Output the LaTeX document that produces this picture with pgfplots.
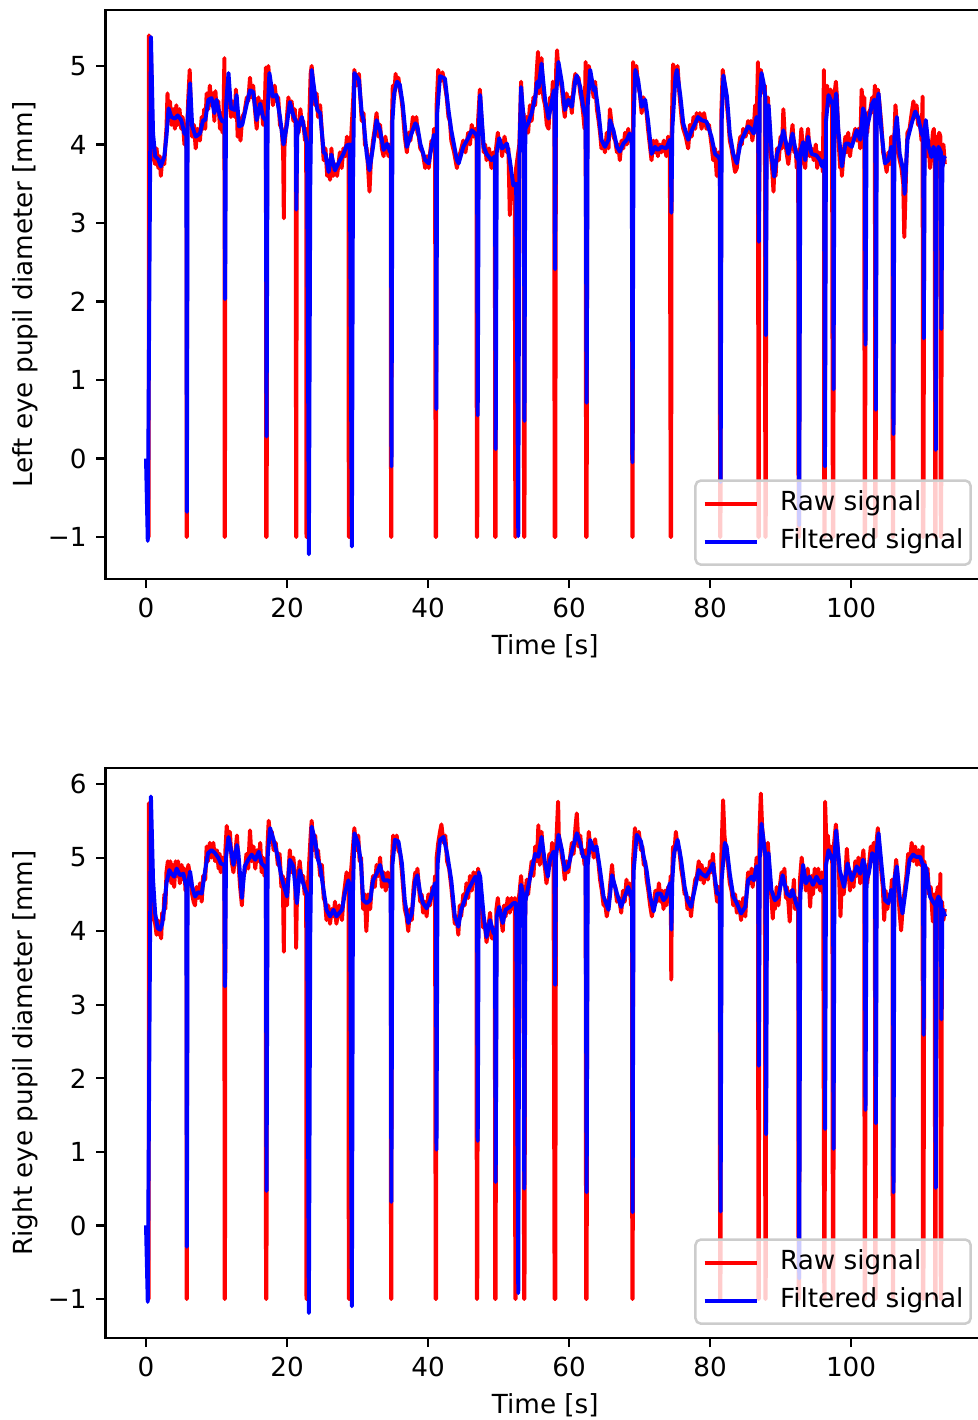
\documentclass[border=0pt]{standalone}
\usepackage{fontspec}
\setmainfont{DejaVu Sans}
\usepackage{pgfplots}
\usepackage{pgfplotstable}
\pgfplotsset{compat=1.18}

\pgfplotstableread{
t v
0 -1
0.38 -1
0.42 5.39
0.55 5.3
0.7 5.2
0.85 4.4
1.0 4.0
1.15 3.8
1.3 3.75
1.5 3.95
1.75 3.7
1.95 3.85
2.1 3.6
2.3 3.8
2.6 3.75
2.75 4.0
2.9 4.2
3.05 4.65
3.2 4.35
3.4 4.55
3.6 4.25
3.85 4.45
4.1 4.2
4.3 4.5
4.5 4.25
4.75 4.45
5.0 4.2
5.2 4.35
5.45 4.0
5.6 4.25
5.74 3.95
5.76 -1
5.8 -1
5.84 4.2
6.0 4.6
6.2 4.95
6.4 4.3
6.55 4.1
6.8 4.25
7.05 3.95
7.3 4.2
7.65 4.05
7.9 4.35
8.1 4.2
8.25 4.45
8.4 4.2
8.6 4.65
8.85 4.45
9.05 4.75
9.3 4.5
9.5 4.65
9.7 4.3
9.85 4.68
10.0 4.45
10.25 4.55
10.5 4.2
10.7 4.4
10.85 4.15
11.0 4.45
11.12 5.10
11.16 -1
11.2 -1
11.24 4.4
11.45 4.75
11.7 4.85
11.85 4.55
12.05 4.35
12.3 4.55
12.6 4.35
12.75 4.7
12.85 4.55
13.0 4.1
13.2 4.3
13.4 4.05
13.65 4.35
13.95 4.4
14.3 4.6
14.5 4.55
14.75 4.85
14.95 4.6
15.2 4.75
15.45 4.45
15.7 4.2
15.95 4.6
16.2 4.4
16.4 4.55
16.6 4.25
16.85 4.5
17.0 4.98
17.05 -1
17.12 -1
17.18 4.6
17.35 5.0
17.5 4.8
17.75 4.75
18.0 4.5
18.25 4.75
18.5 4.55
18.75 4.6
19.0 4.25
19.25 4.2
19.45 3.9
19.55 3.06
19.62 3.95
19.8 4.15
19.95 4.3
20.2 4.6
20.4 4.45
20.65 4.55
20.9 4.3
21.1 4.45
21.25 4.2
21.28 -1
21.33 -1
21.37 4.2
21.5 4.3
21.65 4.15
21.9 4.45
22.1 4.25
22.3 4.3
22.55 4.05
22.72 4.2
22.76 -1
22.84 -1
22.9 3.9
23.05 4.0
23.35 4.9
23.5 5.0
23.75 4.7
24.0 4.5
24.2 4.65
24.4 4.35
24.7 4.5
24.95 4.15
25.2 3.8
25.45 3.95
25.7 3.6
25.9 3.75
26.1 3.55
26.3 3.95
26.55 3.6
26.8 3.75
27.1 3.6
27.5 3.9
27.75 3.7
28.0 3.95
28.25 3.85
28.5 4.1
28.72 3.9
28.76 -1
28.84 -1
28.9 3.95
29.1 4.1
29.4 4.6
29.55 4.95
29.85 4.75
30.2 4.9
30.4 4.6
30.6 4.3
30.85 4.4
31.05 4.0
31.3 3.95
31.5 3.7
31.7 3.4
31.9 3.8
32.2 4.05
32.45 4.2
32.7 4.4
32.95 4.1
33.2 4.25
33.45 3.95
33.7 3.85
33.95 4.1
34.2 3.95
34.4 3.85
34.6 4.0
34.72 3.9
34.75 -1
34.8 -1
34.86 4.2
35.0 4.75
35.2 4.6
35.4 4.9
35.6 4.75
35.8 4.85
36.0 4.7
36.2 4.6
36.4 4.45
36.7 4.1
37.0 3.9
37.25 4.15
37.5 4.05
37.85 4.35
38.2 4.2
38.35 4.35
38.5 4.15
38.7 4.1
38.9 3.95
39.25 3.9
39.6 3.7
39.85 3.85
40.1 3.7
40.3 3.9
40.5 4.05
40.7 3.95
40.85 4.2
41.0 4.05
41.08 -1
41.14 -1
41.22 4.5
41.45 4.95
41.7 4.8
42.05 4.92
42.4 4.75
42.65 4.6
42.9 4.35
43.1 4.3
43.3 4.05
43.7 3.9
44.1 3.7
44.35 3.85
44.6 3.9
45.0 4.05
45.3 3.9
45.7 4.15
45.95 4.0
46.2 4.25
46.45 4.1
46.7 4.2
46.88 4.05
46.92 -1
46.98 -1
47.1 4.3
47.35 4.7
47.6 4.3
47.9 3.9
48.1 4.0
48.3 3.8
48.65 3.95
49.0 3.7
49.25 3.9
49.48 3.75
49.52 -1
49.58 -1
49.65 3.95
49.9 4.15
50.1 4.0
50.3 4.05
50.5 3.85
50.85 4.1
51.2 3.9
51.4 3.95
51.6 3.1
51.85 3.6
52.1 3.3
52.3 3.6
52.38 -1
52.44 -1
52.5 3.7
52.95 4.0
53.2 4.8
53.4 4.35
53.55 4.4
53.62 -1
53.68 -1
53.75 4.1
54.0 4.35
54.2 4.15
54.45 4.5
54.7 4.3
54.95 4.6
55.2 4.5
55.4 4.9
55.6 5.18
55.75 4.65
55.95 4.9
56.1 5.1
56.35 4.6
56.6 4.5
56.85 4.25
57.1 4.2
57.3 4.6
57.5 4.45
57.7 4.8
57.9 4.6
57.95 -1
58.05 -1
58.15 4.9
58.3 5.2
58.5 4.95
58.75 4.85
59.0 4.7
59.2 4.5
59.4 4.35
59.65 4.65
59.9 4.5
60.15 4.6
60.4 4.4
60.65 4.75
60.9 4.9
61.1 4.8
61.35 4.85
61.6 4.65
61.8 4.55
62.0 4.4
62.2 4.2
62.35 5.05
62.42 -1
62.5 -1
62.6 4.6
62.8 5.0
63.0 4.9
63.25 4.75
63.5 4.6
63.7 4.8
63.95 4.45
64.2 4.3
64.4 4.15
64.6 3.95
64.85 4.0
65.1 3.9
65.35 4.15
65.6 3.95
65.8 4.45
66.05 4.25
66.3 4.1
66.55 4.05
66.8 3.9
67.0 4.0
67.2 3.8
67.45 4.05
67.7 3.95
67.95 4.15
68.2 4.0
68.4 4.2
68.6 4.05
68.8 4.1
68.93 3.95
68.97 -1
69.03 -1
69.08 5.05
69.3 4.9
69.55 5.0
69.8 4.75
70.05 4.65
70.3 4.4
70.55 4.6
70.8 4.5
71.0 4.4
71.2 4.2
71.45 4.0
71.7 3.8
71.95 4.05
72.2 3.9
72.4 4.05
72.6 3.85
72.85 4.0
73.1 3.9
73.45 4.05
73.8 3.85
74.05 4.1
74.3 4.0
74.42 -1
74.48 -1
74.55 4.1
74.75 5.02
75.0 4.95
75.2 4.85
75.4 5.0
75.6 4.7
75.8 4.5
76.0 4.3
76.2 4.2
76.55 4.1
76.9 3.95
77.15 4.25
77.4 4.1
77.65 4.35
77.9 4.2
78.1 4.4
78.3 4.3
78.55 4.4
78.8 4.2
79.15 4.4
79.5 4.2
79.85 4.25
80.2 4.0
80.45 3.8
80.7 3.95
80.95 3.6
81.2 3.9
81.38 3.55
81.42 -1
81.48 -1
81.6 4.4
81.8 4.95
82.0 4.8
82.2 4.7
82.4 4.5
82.6 4.3
82.8 4.05
83.05 3.95
83.3 3.8
83.55 3.65
83.8 3.7
84.05 3.95
84.3 4.1
84.5 4.0
84.7 4.2
85.05 4.1
85.4 4.3
85.6 4.15
85.8 4.3
86.0 4.05
86.2 4.2
86.4 4.5
86.6 4.25
86.8 5.05
86.86 -1
86.92 -1
87.0 4.6
87.2 4.95
87.4 4.8
87.6 4.65
87.78 4.75
87.84 -1
87.9 -1
88.0 4.5
88.2 4.6
88.4 4.3
88.6 3.9
88.8 3.7
89.0 3.4
89.15 3.75
89.3 3.6
89.5 3.95
89.75 3.8
90.0 4.1
90.2 3.95
90.4 4.45
90.6 4.1
90.85 3.9
91.1 3.75
91.4 4.0
91.7 4.25
91.95 3.9
92.15 3.95
92.3 3.7
92.5 3.9
92.55 -1
92.62 -1
92.75 3.9
92.95 4.2
93.2 3.9
93.35 3.75
93.5 3.7
93.7 4.05
93.9 4.2
94.15 3.85
94.4 3.95
94.7 3.8
95.0 4.0
95.2 3.7
95.4 3.9
95.6 3.75
95.8 3.9
96.0 3.65
96.15 4.95
96.2 -1
96.26 -1
96.4 4.4
96.6 4.75
96.85 4.5
97.1 4.7
97.3 4.45
97.42 -1
97.48 -1
97.6 4.6
97.85 4.8
98.0 4.6
98.2 4.1
98.45 3.7
98.6 3.85
98.7 3.6
98.95 3.9
99.2 4.1
99.4 3.9
99.6 4.15
99.85 3.85
100.1 4.05
100.35 4.1
100.6 4.2
100.8 4.05
101.05 4.2
101.3 3.95
101.5 4.7
101.7 4.5
101.88 4.6
101.92 -1
101.98 -1
102.1 4.4
102.3 4.15
102.5 4.4
102.75 4.45
103.0 4.6
103.2 4.4
103.38 4.75
103.42 -1
103.48 -1
103.6 4.6
103.8 4.7
104.0 4.55
104.3 4.25
104.55 3.9
104.8 3.8
105.05 3.65
105.3 3.9
105.5 3.75
105.7 4.1
105.88 3.85
105.92 -1
105.98 -1
106.1 4.0
106.3 4.5
106.5 4.25
106.7 3.9
106.9 3.8
107.15 3.7
107.4 3.5
107.55 2.82
107.7 3.3
107.85 3.8
108.0 4.15
108.3 4.2
108.6 4.4
108.85 4.55
109.1 4.35
109.3 4.5
109.5 4.25
109.75 4.3
110.0 4.05
110.15 4.61
110.2 -1
110.27 -1
110.4 4.3
110.6 4.2
110.8 3.85
111.0 4.05
111.2 3.7
111.4 3.9
111.6 4.15
111.75 4.2
111.88 3.8
111.92 -1
111.98 -1
112.1 4.1
112.3 3.85
112.5 4.15
112.68 4.1
112.72 -1
112.78 -1
112.9 3.7
113.1 4.0
113.3 3.75
}\rawL

\pgfplotstableread{
t v
0 0
0.25 -1.05
0.7 5.37
1.0 4.14
1.3 3.85
1.75 3.81
2.1 3.72
2.6 3.85
2.9 4.1
3.2 4.46
3.6 4.35
4.1 4.33
4.5 4.37
5.0 4.31
5.45 4.14
5.72 4.12
5.8 -0.68
5.9 4.3
6.25 4.78
6.55 4.23
7.05 4.10
7.65 4.14
8.1 4.31
8.4 4.31
8.85 4.57
9.3 4.59
9.7 4.40
10.0 4.57
10.5 4.35
10.85 4.29
11.15 4.3
11.22 2.03
11.35 4.5
11.7 4.91
12.05 4.46
12.6 4.44
12.85 4.63
13.2 4.23
13.65 4.25
14.3 4.52
14.75 4.69
15.2 4.67
15.7 4.31
16.2 4.52
16.6 4.35
17.0 4.3
17.1 0.28
17.25 4.4
17.5 4.91
18.0 4.61
18.5 4.63
19.0 4.35
19.5 4.0
19.95 4.23
20.4 4.54
20.9 4.37
21.25 4.3
21.32 3.17
21.45 4.1
21.65 4.23
22.1 4.35
22.55 4.14
22.85 4.0
23.1 -1.22
23.3 3.5
23.5 4.95
24.0 4.61
24.3 4.44
24.7 4.40
25.2 3.90
25.45 3.88
25.9 3.65
26.3 3.87
26.8 3.67
27.5 3.80
28.0 3.88
28.5 3.99
28.9 4.0
29.2 -1.12
29.35 3.5
29.55 4.91
30.2 4.82
30.6 4.40
30.85 4.31
31.3 3.88
31.7 3.67
32.2 3.97
32.7 4.31
33.2 4.18
33.7 3.93
34.2 4.01
34.6 3.91
34.75 3.9
34.82 -0.10
34.95 4.3
35.2 4.65
35.6 4.80
36.0 4.76
36.4 4.52
37.0 3.97
37.5 4.10
38.2 4.27
38.5 4.23
38.9 4.01
39.6 3.80
40.1 3.76
40.5 3.97
40.85 4.12
41.1 4.1
41.18 0.63
41.3 4.4
41.7 4.87
42.4 4.84
42.9 4.44
43.3 4.18
44.1 3.80
44.35 3.76
45.0 3.97
45.7 4.08
46.2 4.18
46.7 4.14
46.95 4.1
47.05 0.55
47.2 4.2
47.4 4.63
47.9 3.97
48.3 3.88
49.0 3.80
49.5 3.85
49.6 0.12
49.75 3.9
50.1 4.08
50.5 3.95
51.2 4.01
51.6 3.80
52.1 3.48
52.5 3.5
52.8 -0.99
52.95 3.8
53.2 4.73
53.5 4.40
53.6 4.3
53.68 0.48
53.8 4.2
54.2 4.27
54.7 4.40
55.2 4.6
55.5 4.8
55.7 4.73
56.1 5.03
56.6 4.57
57.1 4.33
57.5 4.52
57.85 4.69
57.95 4.6
58.02 2.41
58.15 4.6
58.5 5.05
59.0 4.78
59.4 4.44
59.9 4.57
60.4 4.48
60.9 4.82
61.1 4.88
61.6 4.73
62.0 4.48
62.35 4.35
62.5 0.71
62.65 4.5
63.0 4.95
63.5 4.69
63.7 4.73
64.2 4.40
64.6 4.06
65.1 3.97
65.6 4.06
65.8 4.31
66.3 4.18
66.8 3.97
67.2 3.91
67.7 4.01
68.2 4.06
68.6 4.14
68.9 4.01
69.0 -0.05
69.15 4.3
69.4 4.95
69.8 4.82
70.3 4.48
70.8 4.57
71.2 4.31
71.7 3.88
72.2 3.97
72.6 3.93
73.1 3.97
73.8 3.95
74.3 4.06
74.45 4.0
74.52 3.13
74.65 4.2
75.1 4.87
75.3 4.95
75.8 4.61
76.2 4.27
76.9 4.06
77.4 4.18
77.9 4.27
78.3 4.35
78.8 4.31
79.5 4.29
80.2 4.10
80.7 3.88
81.2 3.84
81.4 3.8
81.5 -0.3
81.65 4.3
81.9 4.88
82.4 4.61
82.8 4.14
83.3 3.88
83.8 3.76
84.3 4.01
84.7 4.10
85.4 4.23
85.8 4.2
86.2 4.14
86.6 4.35
86.85 4.3
86.92 2.76
87.05 4.6
87.3 4.91
87.6 4.78
87.85 4.6
87.92 1.57
88.05 4.4
88.3 4.50
88.8 3.80
89.1 3.59
89.5 3.88
90.0 4.01
90.4 4.18
91.1 3.88
91.7 4.14
92.3 3.84
92.55 3.8
92.65 -0.85
92.8 3.9
93.2 4.03
93.5 3.80
93.9 4.10
94.4 3.88
95.1 3.86
95.6 3.80
95.9 3.72
96.2 3.8
96.3 -0.10
96.45 4.3
96.8 4.63
97.2 4.55
97.45 4.5
97.52 0.88
97.65 4.5
97.9 4.65
98.2 4.18
98.7 3.72
99.2 4.01
99.6 4.01
100.1 3.97
100.8 4.18
101.3 4.06
101.7 4.46
101.95 4.4
102.05 1.45
102.2 4.2
102.5 4.31
103.0 4.52
103.3 4.57
103.45 4.5
103.52 0.62
103.65 4.5
103.9 4.65
104.3 4.18
104.8 3.76
105.3 3.80
105.7 3.97
105.95 3.9
106.02 0.31
106.15 4.1
106.5 4.35
106.9 3.88
107.4 3.67
107.6 3.37
108.0 4.06
108.6 4.27
109.1 4.42
109.5 4.35
110.0 4.14
110.25 4.1
110.32 1.53
110.45 4.2
110.6 4.31
111.0 3.97
111.4 3.84
111.7 3.97
111.95 3.9
112.02 0.11
112.15 3.8
112.4 3.97
112.75 3.9
112.82 1.65
112.95 3.7
113.2 3.84
113.35 3.82
}\filtL

\pgfplotstableread{
t v
0 -1
0.38 -1
0.42 5.74
0.55 5.6
0.7 5.2
0.85 4.6
1.0 4.5
1.15 4.15
1.3 4.1
1.5 3.95
1.65 4.15
1.85 3.95
2.0 4.1
2.15 3.9
2.3 4.25
2.45 4.15
2.6 4.5
2.75 4.3
2.9 4.8
3.1 4.95
3.3 4.7
3.45 4.95
3.6 4.65
3.8 4.9
4.0 4.6
4.2 4.95
4.35 4.75
4.55 4.95
4.8 4.65
5.05 4.9
5.3 4.7
5.45 4.85
5.6 4.55
5.74 4.6
5.76 -1
5.8 -1
5.84 4.7
6.0 4.9
6.25 4.75
6.4 4.7
6.55 4.5
6.75 4.4
6.95 4.35
7.15 4.6
7.4 4.45
7.65 4.65
7.9 4.4
8.1 4.75
8.4 4.7
8.6 5.15
8.8 4.95
9.05 5.2
9.3 5.0
9.55 5.2
9.8 4.95
10.05 5.1
10.3 4.85
10.45 5.05
10.6 4.8
10.85 5.0
11.1 4.8
11.16 -1
11.2 -1
11.26 5.1
11.45 5.43
11.7 5.2
11.9 5.35
12.15 4.95
12.4 4.8
12.6 5.0
12.9 5.3
13.1 4.95
13.35 4.6
13.6 4.35
13.8 4.75
14.0 4.8
14.25 5.05
14.5 4.85
14.75 5.37
15.0 4.95
15.25 5.15
15.5 4.85
15.75 5.1
16.0 4.95
16.2 5.2
16.4 4.8
16.6 5.0
16.8 4.75
16.98 4.95
17.02 -1
17.08 -1
17.2 5.1
17.4 5.5
17.6 5.3
17.85 5.35
18.1 5.1
18.4 5.2
18.7 4.9
18.95 5.05
19.2 4.6
19.4 4.75
19.55 3.72
19.62 4.5
19.8 4.7
20.0 4.35
20.2 4.8
20.4 5.1
20.65 4.8
20.9 5.0
21.15 4.75
21.3 3.77
21.37 4.3
21.55 4.7
21.8 4.95
22.05 4.7
22.3 4.75
22.5 4.5
22.72 4.65
22.76 -1
22.84 -1
22.9 4.5
23.35 5.3
23.5 5.5
23.75 5.1
24.0 5.3
24.2 5.0
24.4 5.1
24.7 4.75
24.95 4.9
25.2 4.45
25.4 4.4
25.6 4.15
25.85 4.35
26.1 4.1
26.35 4.3
26.6 4.2
26.8 4.4
27.0 4.1
27.4 4.35
27.8 4.15
28.0 4.45
28.2 4.6
28.45 4.8
28.72 4.6
28.76 -1
28.84 -1
28.9 4.6
29.4 5.2
29.55 5.4
29.85 5.1
30.1 5.3
30.3 4.95
30.5 5.0
30.65 4.6
30.8 4.3
31.05 4.5
31.25 4.0
31.5 4.5
31.8 4.3
32.0 4.6
32.2 4.75
32.45 4.6
32.7 4.9
32.95 4.75
33.2 5.0
33.45 4.6
33.7 4.8
34.0 4.55
34.3 4.8
34.55 4.6
34.72 4.75
34.75 -1
34.8 -1
34.86 4.9
35.05 5.3
35.3 5.15
35.55 5.3
35.8 5.1
36.05 5.05
36.3 4.8
36.5 4.55
36.7 4.3
36.95 4.2
37.2 4.0
37.45 4.3
37.7 4.15
37.95 4.6
38.2 4.8
38.35 4.65
38.5 4.85
38.7 4.6
38.9 4.4
39.1 4.5
39.3 4.25
39.55 4.4
39.8 4.2
40.05 4.5
40.3 4.35
40.6 4.6
40.85 4.5
41.0 4.75
41.08 -1
41.14 -1
41.22 5.0
41.45 5.2
41.7 5.35
41.9 5.45
42.2 5.2
42.45 5.3
42.7 4.95
43.0 4.85
43.3 4.6
43.55 4.35
43.8 4.1
44.05 4.2
44.3 3.95
44.5 4.35
44.7 4.2
45.0 4.5
45.2 4.35
45.45 4.65
45.7 4.45
45.95 4.75
46.2 4.55
46.45 4.8
46.7 4.65
46.88 4.8
46.92 -1
46.98 -1
47.1 4.85
47.35 4.65
47.6 4.35
47.8 4.05
48.05 4.1
48.3 3.85
48.55 4.05
48.8 4.25
49.05 3.9
49.3 4.05
49.48 3.85
49.52 -1
49.58 -1
49.7 4.3
49.9 4.45
50.1 4.25
50.35 4.2
50.6 4.0
50.8 4.35
51.0 4.2
51.3 4.45
51.6 4.25
51.85 4.45
52.1 4.3
52.3 4.45
52.38 -1
52.44 -1
52.5 4.3
52.95 4.5
53.2 4.75
53.4 4.5
53.55 4.4
53.62 -1
53.68 -1
53.8 4.5
54.0 4.7
54.2 4.5
54.45 4.75
54.7 4.95
54.95 4.75
55.2 5.15
55.45 4.95
55.65 5.44
55.85 4.9
56.1 5.35
56.35 5.0
56.6 4.85
56.8 4.65
57.0 4.8
57.2 5.05
57.4 4.9
57.6 5.2
57.8 5.0
57.95 -1
58.05 -1
58.15 5.1
58.45 5.76
58.55 5.3
58.75 5.2
59.0 5.0
59.2 4.9
59.4 4.7
59.65 4.95
59.9 4.8
60.15 5.0
60.4 5.2
60.65 5.05
60.9 5.4
61.1 5.6
61.35 5.15
61.6 5.3
61.8 5.05
62.0 5.1
62.2 4.9
62.35 5.1
62.42 -1
62.5 -1
62.6 5.0
62.8 5.35
63.0 5.15
63.25 5.2
63.5 5.0
63.7 5.25
63.9 5.05
64.15 4.95
64.4 4.7
64.65 4.55
64.9 4.35
65.1 4.4
65.35 4.2
65.6 4.35
65.8 4.6
66.1 4.9
66.3 4.65
66.55 4.6
66.8 4.4
67.1 4.45
67.4 4.25
67.65 4.55
67.9 4.4
68.15 4.7
68.4 4.5
68.6 4.65
68.8 4.35
68.93 4.55
68.97 -1
69.03 -1
69.1 5.0
69.35 5.4
69.6 5.2
69.9 5.35
70.2 5.1
70.4 5.15
70.6 4.9
70.8 4.95
71.0 4.7
71.25 4.55
71.5 4.35
71.75 4.2
72.0 4.35
72.25 4.55
72.5 4.4
72.75 4.65
73.0 4.4
73.2 4.55
73.4 4.3
73.6 4.55
73.8 4.35
74.05 4.6
74.3 4.55
74.42 4.75
74.5 3.34
74.58 4.6
74.75 5.15
74.9 5.0
75.15 5.35
75.4 5.15
75.65 5.1
75.9 4.85
76.15 4.7
76.4 4.5
76.6 4.5
76.8 4.3
77.05 4.45
77.3 4.2
77.55 4.45
77.9 4.7
78.15 4.75
78.4 4.95
78.6 4.7
78.8 4.9
79.1 4.65
79.4 4.85
79.7 4.7
80.0 4.95
80.2 4.8
80.4 5.05
80.7 4.65
81.0 4.4
81.2 4.6
81.38 4.4
81.42 -1
81.48 -1
81.6 5.0
81.85 5.78
82.05 5.3
82.3 5.05
82.55 4.9
82.8 4.65
83.05 4.55
83.3 4.35
83.55 4.5
83.8 4.25
84.1 4.4
84.4 4.15
84.7 4.45
85.0 4.2
85.2 4.55
85.4 4.8
85.65 4.65
85.9 4.85
86.05 4.6
86.2 4.8
86.4 4.7
86.6 5.0
86.8 4.75
86.86 -1
86.92 -1
87.0 5.3
87.2 5.87
87.4 5.4
87.6 5.2
87.78 5.0
87.84 -1
87.9 -1
88.0 4.95
88.2 5.2
88.4 4.85
88.6 4.6
88.9 4.17
89.05 4.5
89.2 4.3
89.45 4.6
89.7 4.35
89.95 4.65
90.15 4.8
90.3 4.65
90.55 4.85
90.75 4.45
90.9 4.6
91.15 4.35
91.3 4.13
91.5 4.55
91.7 4.45
91.9 4.7
92.05 4.3
92.25 4.45
92.5 4.25
92.55 -1
92.62 -1
92.75 4.7
93.0 5.0
93.2 4.8
93.4 4.75
93.6 4.55
93.85 4.85
94.05 4.6
94.2 4.33
94.4 4.75
94.6 4.5
94.85 4.85
95.1 4.6
95.35 4.85
95.6 4.55
95.85 4.8
96.05 4.6
96.2 -1
96.26 -1
96.32 5.76
96.5 5.2
96.7 5.3
96.9 5.0
97.15 5.15
97.35 4.9
97.42 -1
97.48 -1
97.6 5.2
97.85 5.45
98.05 5.2
98.25 4.9
98.5 4.2
98.7 4.7
98.95 4.5
99.2 4.75
99.4 5.12
99.6 4.85
99.85 4.55
100.1 4.8
100.35 4.6
100.6 4.95
100.8 4.75
101.05 5.0
101.3 4.65
101.5 4.9
101.75 5.1
101.88 4.85
101.92 -1
101.98 -1
102.1 4.85
102.3 4.65
102.55 4.9
102.8 5.15
103.0 4.95
103.2 5.2
103.38 5.05
103.42 -1
103.48 -1
103.6 5.2
103.8 5.4
104.0 5.15
104.25 4.85
104.5 4.6
104.7 4.15
104.9 4.55
105.15 4.3
105.4 4.5
105.6 4.45
105.8 4.7
105.88 4.5
105.92 -1
105.98 -1
106.1 4.6
106.4 4.97
106.6 4.75
106.85 4.3
107.1 4.01
107.35 4.35
107.6 4.55
107.85 4.75
108.1 5.05
108.35 4.95
108.6 5.2
108.85 4.95
109.1 5.15
109.35 4.9
109.6 5.1
109.85 4.9
110.05 5.05
110.15 5.15
110.2 -1
110.27 -1
110.4 4.95
110.6 4.75
110.85 4.85
111.05 4.5
111.3 4.6
111.6 4.13
111.8 4.5
111.88 4.3
111.92 -1
111.98 -1
112.1 4.45
112.3 4.6
112.55 4.3
112.68 4.78
112.72 -1
112.78 -1
112.9 4.4
113.1 4.15
113.3 4.3
}\rawR

\pgfplotstableread{
t v
0 0
0.25 -1.04
0.7 5.83
1.0 4.70
1.3 4.24
1.65 4.04
2.0 4.02
2.3 4.10
2.6 4.33
2.9 4.65
3.3 4.83
3.6 4.78
4.0 4.74
4.35 4.85
4.8 4.76
5.3 4.78
5.6 4.65
5.72 4.6
5.8 -0.29
5.9 4.6
6.25 4.81
6.55 4.60
6.95 4.47
7.4 4.53
7.9 4.51
8.4 4.83
8.8 5.06
9.3 5.10
9.8 5.06
10.3 4.99
10.6 4.92
11.1 4.9
11.2 3.25
11.35 5.0
11.7 5.28
11.9 5.19
12.4 4.90
12.9 5.17
13.1 5.06
13.6 4.45
14.0 4.88
14.5 4.97
15.0 5.04
15.5 4.97
16.0 5.08
16.4 4.92
16.8 4.88
17.0 4.85
17.1 0.47
17.25 5.0
17.6 5.40
18.1 5.24
18.7 5.01
19.2 4.74
19.6 4.60
20.0 4.47
20.4 4.97
20.9 4.88
21.4 4.38
21.8 4.83
22.3 4.65
22.6 4.56
22.85 4.5
23.1 -1.19
23.3 4.0
23.5 5.42
24.0 5.22
24.4 4.97
24.7 4.88
25.2 4.55
25.6 4.29
26.1 4.20
26.6 4.29
27.0 4.20
27.8 4.29
28.2 4.51
28.7 4.69
28.95 4.6
29.2 -1.10
29.35 4.5
29.55 5.33
30.1 5.19
30.5 4.92
30.8 4.42
31.3 4.38
31.8 4.42
32.2 4.69
32.7 4.78
33.2 4.90
33.7 4.69
34.4 4.69
34.7 4.65
34.8 0.32
34.95 4.9
35.3 5.24
35.8 5.22
36.3 4.92
36.7 4.42
37.2 4.11
37.7 4.24
38.2 4.69
38.5 4.76
38.9 4.51
39.3 4.38
39.8 4.31
40.3 4.42
41.0 4.65
41.12 4.6
41.2 1.03
41.35 4.9
41.7 5.24
42.2 5.28
42.7 5.06
43.3 4.69
43.8 4.20
44.3 4.06
44.7 4.29
45.2 4.42
45.7 4.56
46.2 4.65
46.7 4.74
46.95 4.7
47.05 1.15
47.2 4.8
47.4 4.74
47.9 4.20
48.3 3.92
48.8 4.15
49.3 3.97
49.5 4.0
49.6 0.59
49.75 4.2
50.1 4.33
50.6 4.11
51.0 4.29
51.6 4.33
52.1 4.38
52.5 4.38
52.8 -0.92
52.95 4.3
53.2 4.63
53.55 4.47
53.65 0.50
53.8 4.4
54.2 4.60
54.7 4.83
55.2 5.05
55.65 5.01
56.1 5.28
56.6 4.92
57.0 4.74
57.3 4.97
57.8 5.08
57.95 5.0
58.02 3.27
58.15 5.0
58.5 5.31
59.0 5.10
59.4 4.83
59.9 4.88
60.4 5.08
61.1 5.33
61.6 5.19
62.0 5.01
62.35 5.0
62.5 0.45
62.65 4.9
63.0 5.24
63.5 5.10
63.9 5.15
64.4 4.83
64.9 4.47
65.6 4.29
66.1 4.76
66.8 4.51
67.4 4.33
67.9 4.47
68.4 4.60
68.8 4.47
68.95 4.45
69.02 0.18
69.15 4.8
69.6 5.31
70.2 5.22
70.6 5.01
71.0 4.83
71.5 4.47
72.0 4.27
72.5 4.51
73.0 4.51
73.4 4.42
73.8 4.47
74.3 4.65
74.45 4.6
74.52 4.02
74.65 4.7
74.9 5.06
75.4 5.24
75.9 4.97
76.4 4.60
76.8 4.42
77.3 4.33
77.9 4.60
78.4 4.83
78.8 4.78
79.4 4.74
80.0 4.83
80.4 4.92
81.0 4.51
81.4 4.5
81.5 0.19
81.65 4.7
82.1 5.2
82.35 5.15
82.8 4.78
83.3 4.47
83.8 4.38
84.4 4.24
85.0 4.33
85.4 4.69
85.9 4.74
86.2 4.69
86.6 4.88
86.85 4.8
86.92 2.17
87.05 5.0
87.3 5.46
87.75 5.10
87.88 5.0
87.95 1.24
88.1 4.9
88.3 5.06
88.7 4.56
89.2 4.42
89.7 4.47
90.3 4.76
90.9 4.51
91.4 4.47
91.7 4.56
92.2 4.38
92.55 4.3
92.65 -0.72
92.8 4.5
93.2 4.90
93.6 4.65
94.1 4.74
94.6 4.63
95.1 4.74
95.6 4.65
96.1 4.69
96.25 4.6
96.32 1.31
96.45 4.9
96.8 5.10
97.2 5.0
97.45 4.95
97.52 1.04
97.65 5.0
97.9 5.37
98.4 4.83
99.0 4.60
99.5 4.92
100.1 4.69
100.8 4.88
101.3 4.78
101.7 4.97
101.95 4.9
102.05 1.57
102.2 4.7
102.5 4.78
103.0 5.06
103.4 5.0
103.52 1.39
103.65 5.1
103.9 5.33
104.3 4.92
104.8 4.42
105.3 4.38
105.7 4.56
105.95 4.5
106.02 0.45
106.15 4.7
106.5 4.88
106.9 4.47
107.3 4.24
107.8 4.60
108.3 4.97
108.8 5.04
109.2 5.01
109.8 5.01
110.2 4.9
110.3 2.59
110.45 4.9
110.7 4.83
111.2 4.47
111.6 4.40
111.95 4.35
112.02 0.51
112.15 4.4
112.4 4.47
112.75 4.4
112.82 2.80
112.95 4.3
113.2 4.24
113.35 4.2
}\filtR

\newcommand{\figfont}{\fontsize{9.45}{11.3}\selectfont}

\pgfplotsset{
  pupil/.style={
    scale only axis,
    width=316.62pt,
    xmin=-5.745, xmax=119.0,
    xtick={0,20,40,60,80,100},
    xticklabels={0,20,40,60,80,100},
    font=\figfont,
    tick label style={font=\figfont},
    label style={font=\figfont},
    axis line style={line width=0.76pt},
    tick style={line width=0.76pt, black},
    major tick length=3.31pt,
    tick align=outside,
    xtick pos=bottom, ytick pos=left,
    minor tick num=0,
    xlabel={Time [s]},
    xlabel shift=-0.8pt,
    ylabel shift=-3.2pt,
    legend image code/.code={\draw[#1] (0pt,0pt) -- (18.9pt,0pt);},
    legend cell align=left,
    legend style={at={(1,0)}, anchor=south east, xshift=-4.73pt, yshift=4.73pt,
      draw=black!20, line width=0.9pt, rounded corners=1.9pt, fill=white, fill opacity=0.8, text opacity=1,
      font=\figfont, inner xsep=2.6pt, inner ysep=3.78pt,
      nodes={inner sep=0pt, text height=7.0pt, text depth=2.0pt},
      column sep=7.56pt,
      row sep=4.7pt},
  },
  rawline/.style={red, line width=1.42pt, line join=round},
  filtline/.style={blue, line width=1.42pt, line join=round},
}

\begin{document}
\begin{tikzpicture}
\path[use as bounding box] (0pt,0pt) rectangle (351.72pt,-511.2pt);
\begin{axis}[pupil,
  at={(37.98pt,-3.6pt)}, anchor=north west,
  height=204.84pt,
  ymin=-1.535, ymax=5.713,
  ytick={-1,0,1,2,3,4,5},
  yticklabels={−1,0,1,2,3,4,5},
  ylabel={Left eye pupil diameter [mm]},
]
\addplot[rawline] table[x=t,y=v] {\rawL};
\addplot[filtline] table[x=t,y=v] {\filtL};
\legend{Raw signal, Filtered signal}
\end{axis}
\begin{axis}[pupil,
  at={(37.98pt,-276.48pt)}, anchor=north west,
  height=205.2pt,
  ymin=-1.530, ymax=6.217,
  ytick={-1,0,1,2,3,4,5,6},
  yticklabels={−1,0,1,2,3,4,5,6},
  ylabel={Right eye pupil diameter [mm]},
]
\addplot[rawline] table[x=t,y=v] {\rawR};
\addplot[filtline] table[x=t,y=v] {\filtR};
\legend{Raw signal, Filtered signal}
\end{axis}
\end{tikzpicture}
\end{document}
